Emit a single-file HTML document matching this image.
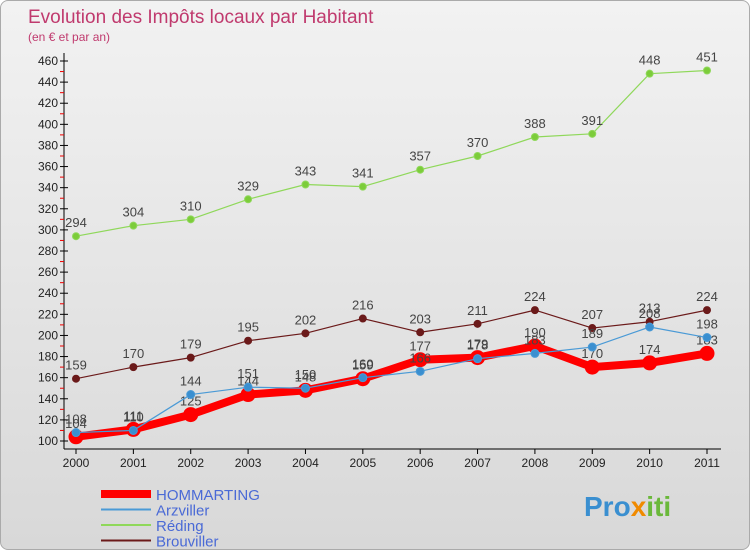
<!DOCTYPE html>
<html><head><meta charset="utf-8"><style>
body{margin:0;width:750px;height:550px;overflow:hidden;font-family:"Liberation Sans",sans-serif}
#wrap{position:absolute;left:0;top:0;width:748px;height:548px;border:1px solid #aaa;border-radius:8px;background:linear-gradient(#f2f2f2,#d8d8d8);}
</style></head><body>
<div id="wrap">
<svg id="c" width="750" height="550"></svg>
</div>
<script>
const years=["2000","2001","2002","2003","2004","2005","2006","2007","2008","2009","2010","2011"];
const hommarting=[104,111,125,144,148,159,177,179,190,170,174,183];
const arzviller=[108,110,144,151,150,160,166,178,183,189,208,198];
const reding=[294,304,310,329,343,341,357,370,388,391,448,451];
const brouviller=[159,170,179,195,202,216,203,211,224,207,213,224];
const yTicks=[100,120,140,160,180,200,220,240,260,280,300,320,340,360,380,400,420,440,460];
const NS="http://www.w3.org/2000/svg";
const svg=document.getElementById('c');
const X=i=>75+i*(706-75)/11;
const Y=v=>440-(v-100)*(380/360);
function mk(t,a,p){const e=document.createElementNS(NS,t);for(const k in a)e.setAttribute(k,a[k]);(p||svg).appendChild(e);return e;}
let t=mk('text',{x:27,y:22,'font-size':19,fill:'#c03a6e'});t.textContent='Evolution des Impôts locaux par Habitant';


t=mk('text',{x:27,y:40,'font-size':12,fill:'#c03a6e'});t.textContent='(en € et par an)';


// axes
let ax=mk('line',{x1:63,y1:52,x2:63,y2:448,stroke:'#000'});


ax=mk('line',{x1:63,y1:448,x2:720,y2:448,stroke:'#000'});


for(let v=100;v<=460;v+=10){mk('line',{x1:59,x2:63,y1:Y(v),y2:Y(v),stroke:v%20?'#e00':'#000'});}
yTicks.forEach(v=>{mk('line',{x1:63,x2:67,y1:Y(v),y2:Y(v),stroke:'#000'});const e=mk('text',{x:57,y:Y(v)+4,'font-size':12,'text-anchor':'end',fill:'#222'});e.textContent=v;

});
years.forEach((y,i)=>{mk('line',{x1:X(i),x2:X(i),y1:448,y2:453,stroke:'#000'});const e=mk('text',{x:X(i),y:466,'font-size':12,'text-anchor':'middle',fill:'#222'});e.textContent=y;

});
function series(d,col,w,r,name,dot){
 const g=mk('g',{});
 
 
 mk('polyline',{points:d.map((v,i)=>X(i)+','+Y(v)).join(' '),fill:'none',stroke:col,'stroke-width':w,'stroke-linejoin':'round'},g);
 d.forEach((v,i)=>{const c=mk('circle',{cx:X(i),cy:Y(v),r:r,fill:dot,stroke:col,'stroke-width':1},g);
 
 
 const e=mk('text',{x:X(i),y:Y(v)-9,'font-size':13,'text-anchor':'middle',fill:'#444'},g);e.textContent=v;
 
 });
}
series(brouviller,'#6b1a1a',1.2,3.5,'brouviller','#6b1a1a');
series(reding,'#8fd85a',1.2,3.5,'reding','#7ccc3a');
series(hommarting,'#f00',8,7,'hommarting','#f00');
series(arzviller,'#4a9ad6',1.2,4,'arzviller','#3a8fd0');
const leg=[['HOMMARTING','#f00',8],['Arzviller','#4a9ad6',2],['Réding','#8fd85a',2],['Brouviller','#6b1a1a',2]];
leg.forEach((l,i)=>{const y=493+i*15.5;const g=mk('g',{});


mk('line',{x1:100,x2:150,y1:y,y2:y,stroke:l[1],'stroke-width':l[2]},g);
const e=mk('text',{x:155,y:y+6,'font-size':15,fill:'#4a6ad6'},g);e.textContent=l[0];});
t=mk('text',{x:583,y:515,'font-size':28,'font-weight':'bold',fill:'#3a8fd0'});t.innerHTML='Pro<tspan fill="#f08a00">x</tspan><tspan fill="#6ab83a">iti</tspan>';


</script>
</body></html>
